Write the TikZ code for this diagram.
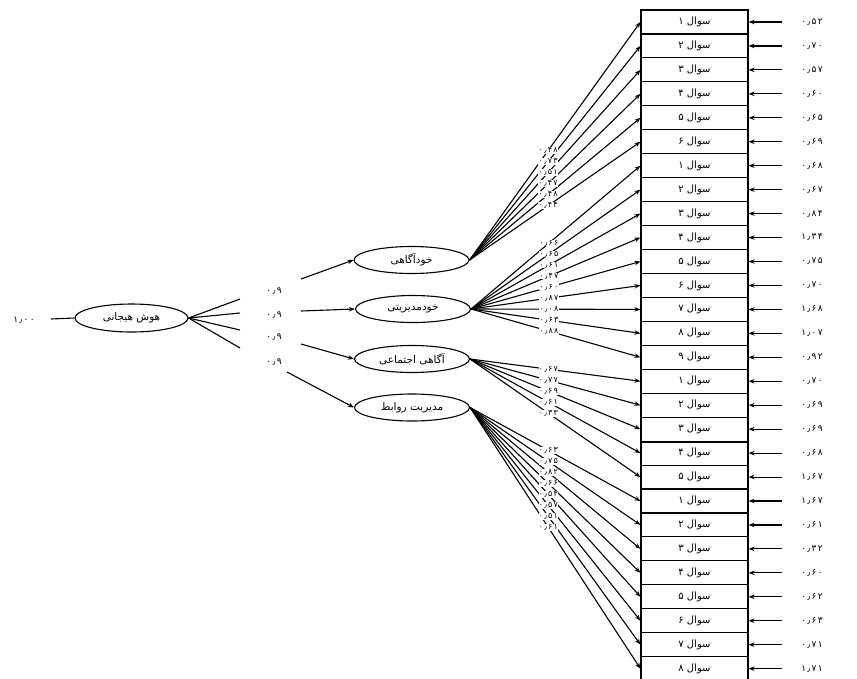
\documentclass[tikz,border=0pt]{standalone}
\usepackage{fontspec}
\usetikzlibrary{arrows.meta,shapes.geometric}
\TeXXeTstate=1
\newfontfamily\fa[Script=Arabic]{DejaVu Sans}
\newfontfamily\fanum[Script=Arabic,LetterSpace=15]{DejaVu Sans}
\begin{document}
\begin{tikzpicture}[x=1pt,y=-1pt,line width=1.1pt,
  box/.style={draw,minimum width=107pt,minimum height=23.95pt,inner sep=0pt,font=\fa\fontsize{10}{11}\selectfont},
  lat/.style={draw,ellipse,minimum width=115pt,minimum height=27pt,inner sep=0pt,font=\fa\fontsize{10.5}{11}\selectfont},
  num/.style={inner sep=1pt,font=\fanum\fontsize{9}{10}\selectfont},
  lab/.style={fill=white,inner sep=0.3pt,font=\fanum\fontsize{8}{8}\selectfont},
  arr/.style={-{Stealth[length=6pt,width=4.5pt]}}]
\clip (0,0) rectangle (857,678);
\fill[white] (0,0) rectangle (857,678);
% items
\foreach \i/\t in {1/۱,2/۲,3/۳,4/۴,5/۵,6/۶,7/۱,8/۲,9/۳,10/۴,11/۵,12/۶,13/۷,14/۸,15/۹,16/۱,17/۲,18/۳,19/۴,20/۵,21/۱,22/۲,23/۳,24/۴,25/۵,26/۶,27/۷,28/۸}
  \node[box] (q\i) at (694.5,{22+(\i-1)*23.95}) {\beginR سوال \t\endR};
\draw[line width=1.9pt] (q18.south west) -- (q18.south east);
% error terms
\foreach \i/\v in {1/۰٫۵۲,2/۰٫۷۰,3/۰٫۵۷,4/۰٫۶۰,5/۰٫۶۵,6/۰٫۶۹,7/۰٫۶۸,8/۰٫۶۷,9/۰٫۸۴,10/۱٫۳۴,11/۰٫۷۵,12/۰٫۷۰,13/۱٫۶۸,14/۱٫۰۷,15/۰٫۹۲,16/۰٫۷۰,17/۰٫۶۹,18/۰٫۶۹,19/۰٫۶۸,20/۱٫۶۷,21/۱٫۶۷,22/۰٫۶۱,23/۰٫۳۲,24/۰٫۶۰,25/۰٫۶۲,26/۰٫۶۳,27/۰٫۷۱,28/۱٫۷۱}{
  \coordinate (e\i) at (782,{22+(\i-1)*23.95});
  \draw[arr] (e\i) -- (q\i.east);
  \node[num] (v\i) at (812,{22+(\i-1)*23.95}) {\v};
}
% latent variables
\node[lat,minimum width=113pt,minimum height=28pt] (H) at (131.5,318) {\beginR هوش هیجانی\endR};
\node[num] (g) at (24,320) {۱٫۰۰};
\coordinate (g1) at (51,319);
\draw (g1) -- (H.west);
\node[lat] (F1) at (411.5,260) {\beginR خودآگاهی\endR};
\node[lat] (F2) at (413,309) {\beginR خودمدیریتی\endR};
\node[lat] (F3) at (412,359) {\beginR آگاهی اجتماعی\endR};
\node[lat] (F4) at (412,407.5) {\beginR مدیریت روابط\endR};
% second-order paths
\foreach \k/\ay/\my/\bx/\by in {1/299/291/301/279,2/313/315/301/311,3/330/337/301/344,4/348/362/287/372}{
  \coordinate (a\k) at (240,\ay);
  \draw (H.east) -- (a\k);
  \node[num] (m\k) at (274,\my) {۰٫۹};
  \coordinate (b\k) at (\bx,\by);
  \draw[arr] (b\k) -- (F\k.west);
}
% loadings
\foreach \f/\i in {1/1,1/2,1/3,1/4,1/5,1/6,2/7,2/8,2/9,2/10,2/11,2/12,2/13,2/14,2/15,3/16,3/17,3/18,3/19,3/20,4/21,4/22,4/23,4/24,4/25,4/26,4/27,4/28}
  \draw[arr] (F\f.east) -- (q\i.west);
\foreach \f/\i/\v in {1/1/۰٫۴۸,1/2/۰٫۷۳,1/3/۰٫۵۱,1/4/۰٫۴۷,1/5/۰٫۴۸,1/6/۰٫۴۴,2/7/۰٫۶۶,2/8/۰٫۶۵,2/9/۰٫۶۱,2/10/۰٫۴۷,2/11/۰٫۶۰,2/12/۰٫۸۷,2/13/۰٫۰۸,2/14/۰٫۶۳,2/15/۰٫۸۸,3/16/۰٫۶۷,3/17/۰٫۷۷,3/18/۰٫۶۹,3/19/۰٫۶۱,3/20/۰٫۳۳,4/21/۰٫۶۳,4/22/۰٫۷۵,4/23/۰٫۸۲,4/24/۰٫۶۶,4/25/۰٫۵۳,4/26/۰٫۵۷,4/27/۰٫۵۱,4/28/۰٫۶۱}
  \path (F\f.east) -- node[lab,pos=0.46] (l\i) {\v} (q\i.west);
\end{tikzpicture}
\end{document}
